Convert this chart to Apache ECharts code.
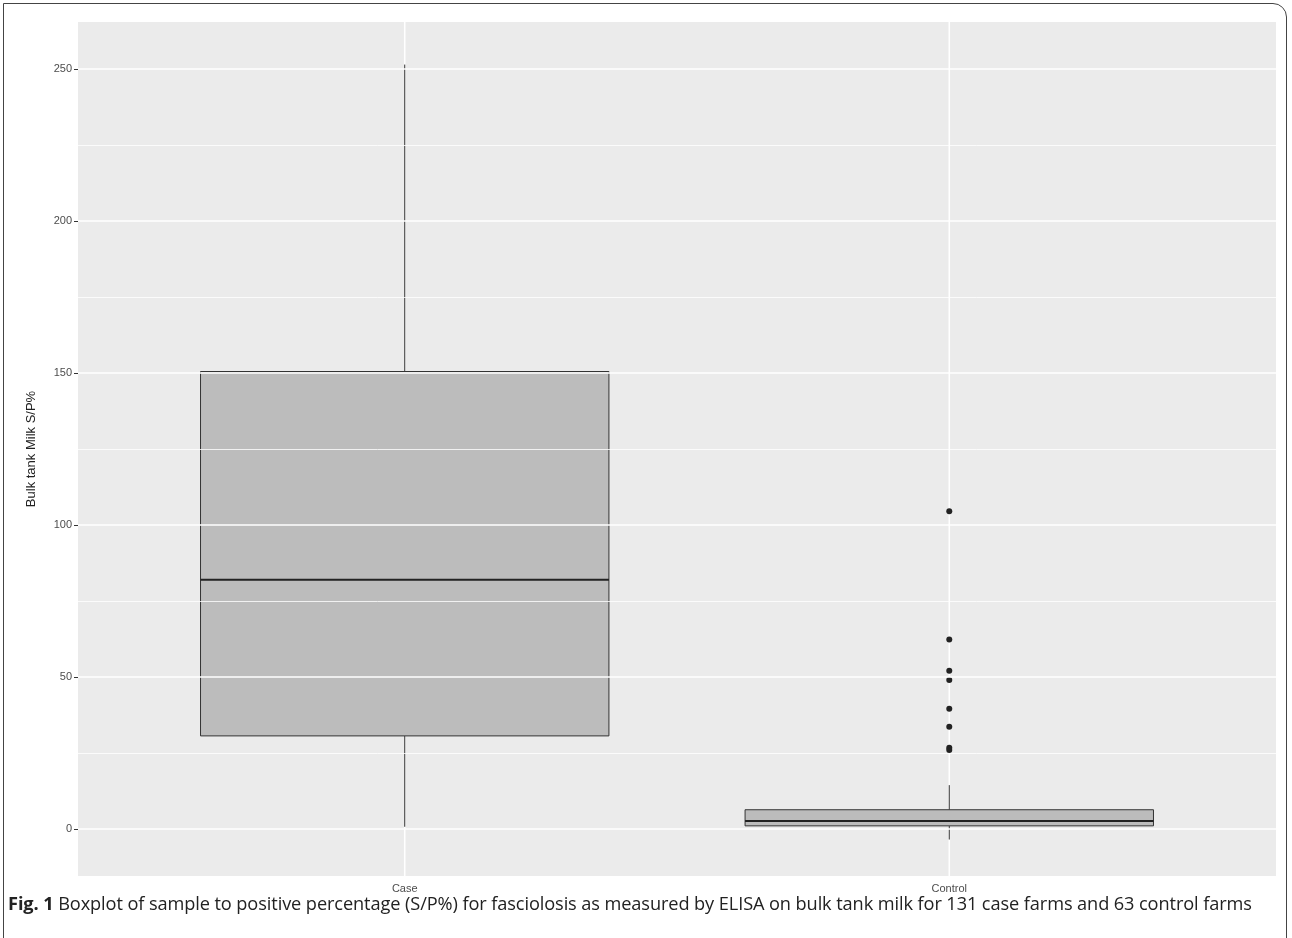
<!DOCTYPE html>
<html>
<head>
<meta charset="utf-8">
<script src="https://cdn.jsdelivr.net/npm/echarts@6/dist/echarts.min.js"></script>
<style>
html,body{margin:0;padding:0;background:#fff;}
#frame{position:absolute;left:3px;top:3px;width:1284px;height:950px;border:1px solid #444;border-top-right-radius:14px;box-sizing:border-box;}
#chart{position:absolute;left:0;top:0;width:1292px;height:938px;}
#cap{position:absolute;left:8px;top:894px;line-height:18px;font-family:"Open Sans",sans-serif;font-size:18.2px;color:#222;white-space:nowrap;letter-spacing:-0.1px;}
</style>
</head>
<body>
<div id="frame"></div>
<div id="chart"></div>
<div id="cap"><b>Fig. 1</b> Boxplot of sample to positive percentage (S/P%) for fasciolosis as measured by ELISA on bulk tank milk for 131 case farms and 63 control farms</div>
<script>
var categories = ['Case', 'Control'];
// min, Q1, median, Q3, max (whisker ends)
var caseBox = [0.7, 30.6, 82, 150.5, 251.5];
var controlBox = [-3.5, 1.0, 2.6, 6.3, 14.4];
var controlOutliers = [104.5, 62.3, 52, 49, 39.5, 33.6, 26.7, 26];

var boxData = [[1].concat(caseBox), [2].concat(controlBox)];
var outlierData = controlOutliers.map(function(v){ return [2, v]; });

function renderBox(params, api){
	var x = api.value(0);
	var halfW = 0.375;
	var pMin = api.coord([x, api.value(1)]);
	var pQ1 = api.coord([x, api.value(2)]);
	var pMed = api.coord([x, api.value(3)]);
	var pQ3 = api.coord([x, api.value(4)]);
	var pMax = api.coord([x, api.value(5)]);
	var left = api.coord([x - halfW, 0])[0];
	var right = api.coord([x + halfW, 0])[0];
	var top = api.coord([x, 265.5])[1];
	var bottom = api.coord([x, -15.5])[1];
	var ln = {stroke: '#333', lineWidth: 1};
	return {
		type: 'group',
		children: [
			{type: 'line', shape: {x1: pMin[0], y1: top, x2: pMin[0], y2: bottom}, style: {stroke: '#fff', lineWidth: 1.6}, z2: 0},
			{type: 'line', shape: {x1: pMax[0], y1: pMax[1], x2: pQ3[0], y2: pQ3[1]}, style: ln},
			{type: 'line', shape: {x1: pMin[0], y1: pMin[1], x2: pQ1[0], y2: pQ1[1]}, style: ln},
			{type: 'rect', shape: {x: left, y: pQ3[1], width: right - left, height: pQ1[1] - pQ3[1]}, style: {fill: '#bcbcbc', stroke: '#333', lineWidth: 1}},
			{type: 'line', shape: {x1: left, y1: pMed[1], x2: right, y2: pMed[1]}, style: {stroke: '#222', lineWidth: 2}}
		]
	};
}

var chart = echarts.init(document.getElementById('chart'));
chart.setOption({
	animation: false,
	grid: {left: 78, top: 22, width: 1198, height: 854, containLabel: false, outerBoundsMode: 'none'},
	xAxis: {
		type: 'value', min: 0.4, max: 2.6,
		axisLine: {show: false},
		splitLine: {show: false},
		axisTick: {customValues: [1, 2], length: 4, lineStyle: {color: '#333'}},
		axisLabel: {customValues: [1, 2], color: '#4d4d4d', fontSize: 11, fontFamily: 'Liberation Sans', margin: 7,
			formatter: function(v){ return categories[Math.round(v) - 1]; }}
	},
	yAxis: {
		type: 'value', min: -15.5, max: 265.5,
		name: 'Bulk tank Milk S/P%', nameLocation: 'middle', nameGap: 40,
		nameTextStyle: {color: '#222', fontSize: 13, fontFamily: 'Liberation Sans'},
		axisLine: {show: false},
		axisTick: {customValues: [0, 50, 100, 150, 200, 250], length: 4, lineStyle: {color: '#333'}},
		axisLabel: {customValues: [0, 50, 100, 150, 200, 250], color: '#4d4d4d', fontSize: 11, fontFamily: 'Liberation Sans', margin: 6},
		splitLine: {show: false}
	},
	graphic: [{type: 'rect', shape: {x: 78, y: 22, width: 1198, height: 854}, style: {fill: '#ebebeb'}, z: -10, silent: true}],
	series: [
		{
			type: 'line', silent: true, symbol: 'none', data: [],
			markLine: {
				symbol: 'none', silent: true, label: {show: false},
				data: [0, 50, 100, 150, 200, 250].map(function(v){ return {yAxis: v, lineStyle: {color: '#fff', width: 1.6, type: 'solid'}}; })
					.concat([25, 75, 125, 175, 225].map(function(v){ return {yAxis: v, lineStyle: {color: '#fff', width: 0.8, type: 'solid'}}; }))
			}
		},
		{type: 'custom', renderItem: renderBox, data: boxData, z: 2},
		{type: 'scatter', data: outlierData, symbolSize: 6, itemStyle: {color: '#222', opacity: 1}, z: 3}
	]
});
</script>
</body>
</html>
